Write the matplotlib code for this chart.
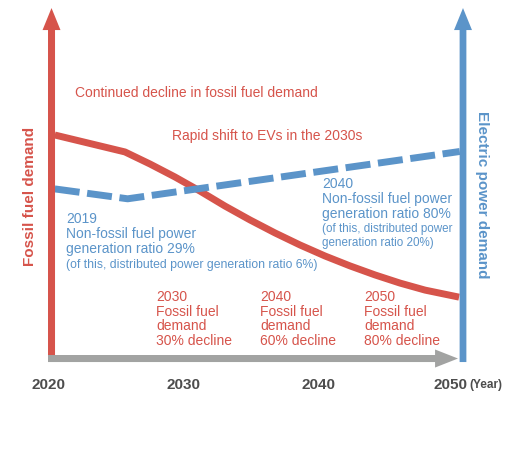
import matplotlib
matplotlib.use("Agg")
import matplotlib.pyplot as plt
from matplotlib.patches import FancyArrow

plt.rcParams["font.family"] = ["Liberation Sans", "DejaVu Sans"]

RED = "#D6544B"
BLUE = "#5B94C9"
GRAY = "#A2A3A2"
DARK = "#4D4D4D"

# fossil fuel demand index (2020 = 100)
fossil_years = [2020.5, 2025.7, 2027.56, 2029.41, 2031.26, 2033.11, 2034.96,
                2036.81, 2038.67, 2040.52, 2042.37, 2044.22, 2046.07,
                2047.93, 2050.45]
fossil_values = [100, 92.3, 86.8, 80.9, 74.5, 67.7, 61.4,
                 55.5, 50.0, 45.0, 40.5, 36.4, 32.7,
                 29.5, 26.3]

# electric power demand index
elec_years = [2020.5, 2025.9, 2050.5]
elec_values = [75.5, 71.0, 92.5]

tick_years = [2020, 2030, 2040, 2050]
tick_labels = ["2020", "2030", "2040", "2050"]

headline_1 = "Continued decline in fossil fuel demand"
headline_2 = "Rapid shift to EVs in the 2030s"

blue_2019 = ["2019", "Non-fossil fuel power", "generation ratio 29%"]
blue_2019_note = ["(of this, distributed power generation ratio 6%)"]
blue_2040 = ["2040", "Non-fossil fuel power", "generation ratio 80%"]
blue_2040_note = ["(of this, distributed power", "generation ratio 20%)"]

red_notes = {
    2028.0: ["2030", "Fossil fuel", "demand", "30% decline"],
    2035.7: ["2040", "Fossil fuel", "demand", "60% decline"],
    2043.4: ["2050", "Fossil fuel", "demand", "80% decline"],
}

fig = plt.figure(figsize=(5.17, 4.68), dpi=100)
ax = fig.add_axes([0, 0, 1, 1])
ax.set_xlim(2016.444, 2054.74)
ax.set_ylim(-51.36, 161.36)
ax.axis("off")

# axes drawn as arrows
ax.add_patch(FancyArrow(2020.0, -1.6, 30.37, 0, width=3.2, head_width=8.2,
                        head_length=1.7, length_includes_head=True,
                        color=GRAY, lw=0, zorder=1))
ax.add_patch(FancyArrow(2020.26, 0, 0, 157.7, width=0.52, head_width=1.33,
                        head_length=10, length_includes_head=True,
                        color=RED, lw=0, zorder=4))
ax.add_patch(FancyArrow(2050.74, -3.2, 0, 160.9, width=0.5, head_width=1.33,
                        head_length=10, length_includes_head=True,
                        color=BLUE, lw=0, zorder=4))

ax.plot(fossil_years, fossil_values, color=RED, lw=5, solid_joinstyle="round",
        solid_capstyle="butt", zorder=2)
ax.plot(elec_years, elec_values, color=BLUE, lw=5, dashes=(3.6, 1.1),
        dash_capstyle="butt", zorder=3)

label_x = [2020.0, 2030.0, 2040.0, 2049.8]
for x, s in zip(label_x, tick_labels):
    ax.text(x, -13.6, s, ha="center", va="center", fontsize=11,
            fontweight="bold", color=DARK)
ax.text(2052.4, -13.6, "(Year)", ha="center", va="center", fontsize=8.5,
        fontweight="bold", color=DARK)

ax.text(2018.67, 72, "Fossil fuel demand", rotation=90, ha="center",
        va="center", fontsize=11, fontweight="bold", color=RED)
ax.text(2052.15, 73, "Electric power demand", rotation=-90, ha="center",
        va="center", fontsize=11, fontweight="bold", color=BLUE)

ax.text(2022.0, 119.1, headline_1, ha="left", va="center", fontsize=10,
        color=RED)
ax.text(2029.19, 99.5, headline_2, ha="left", va="center", fontsize=10,
        color=RED)


def stack(x, y0, lines, size, color, step=6.8):
    for i, s in enumerate(lines):
        ax.text(x, y0 - i * step, s, ha="left", va="center", fontsize=size,
                color=color)


stack(2021.33, 61.8, blue_2019, 10, BLUE)
stack(2021.33, 40.9, blue_2019_note, 8.8, BLUE)
stack(2040.3, 77.7, blue_2040, 10, BLUE, step=6.8)
stack(2040.3, 57.3, blue_2040_note, 8.4, BLUE, step=6.4)

for x, lines in red_notes.items():
    stack(x, 26.4, lines, 10, RED, step=6.7)

fig.savefig("out.png", dpi=100)
